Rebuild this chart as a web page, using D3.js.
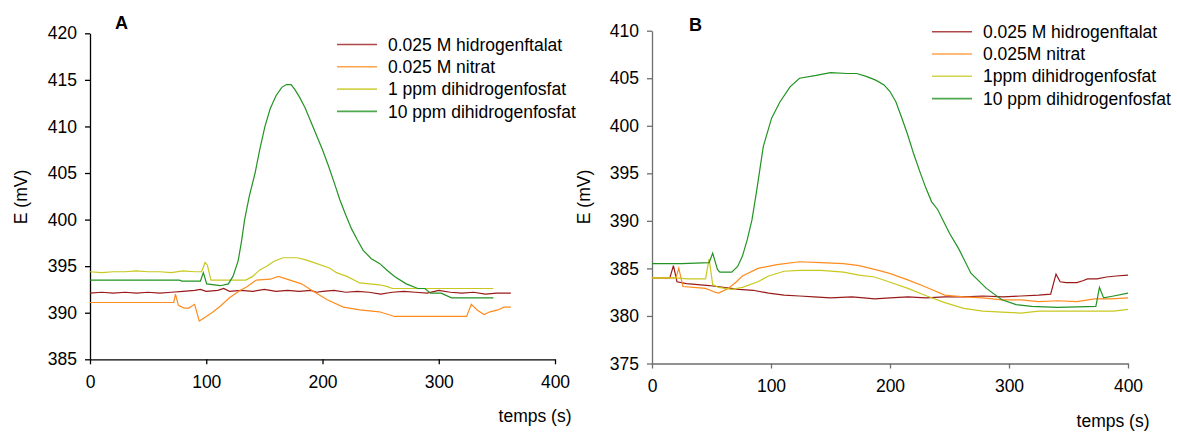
<!DOCTYPE html>
<html>
<head>
<meta charset="utf-8">
<script src="https://cdn.jsdelivr.net/npm/d3@7"></script>
<style>
  body { margin: 0; background: #fff; }
  text { font-family: "Liberation Sans", Arial, sans-serif; }
</style>
</head>
<body>
<svg id="chart" width="1177" height="432"></svg>
<script>
// ---- data ----
const xTicks = [0, 100, 200, 300, 400];
const yTicksA = [385, 390, 395, 400, 405, 410, 415, 420];
const yTicksB = [375, 380, 385, 390, 395, 400, 405, 410];

const labelsA = ['0.025 M hidrogenftalat', '0.025 M nitrat', '1 ppm dihidrogenfosfat', '10 ppm dihidrogenfosfat'];
const labelsB = ['0.025 M hidrogenftalat', '0.025M nitrat', '1ppm dihidrogenfosfat', '10 ppm dihidrogenfosfat'];
const colors = ['#9a1a1a', '#ff8c1e', '#c8c820', '#229322'];

// panel A  [temps (s), E (mV)]
const aFtalat = [[0,392.1],[10,392.2],[20,392.1],[30,392.2],[40,392.1],[50,392.2],[60,392.1],[70,392.2],[80,392.3],[90,392.4],[95,392.5],[100,392.3],[110,392.4],[115,392.6],[120,392.3],[130,392.4],[140,392.3],[150,392.5],[160,392.3],[170,392.4],[180,392.3],[190,392.4],[195,392.2],[200,392.3],[210,392.4],[220,392.2],[230,392.3],[240,392.2],[250,392.0],[260,392.2],[270,392.3],[280,392.2],[290,392.1],[300,392.4],[310,392.2],[320,392.1],[330,392.2],[340,392.0],[350,392.1],[362,392.1]];
const aNitrat = [[0,391.1],[72,391.1],[73.5,392.0],[76,390.8],[81,390.5],[85,390.5],[90,390.9],[94,389.1],[100,389.6],[106,390.1],[112,390.7],[120,391.6],[128,392.3],[135,392.8],[143,393.5],[155,393.6],[162,393.9],[172,393.5],[182,393.1],[192,392.3],[204,391.4],[218,390.6],[232,390.3],[249,390.1],[262,389.6],[324,389.6],[328,390.9],[333,390.3],[339,389.8],[344,390.1],[351,390.3],[356,390.6],[362,390.6]];
const a1ppm = [[0,394.4],[10,394.3],[20,394.4],[30,394.4],[40,394.5],[50,394.4],[60,394.4],[70,394.3],[80,394.5],[90,394.4],[96,394.4],[99,395.4],[101,395.1],[104,393.5],[134,393.5],[140,393.9],[146,394.6],[152,395.0],[158,395.5],[166,395.9],[178,395.9],[185,395.7],[192,395.4],[206,394.8],[212,394.3],[221,393.9],[232,393.2],[249,393.0],[256,392.8],[260,392.6],[347,392.6]];
const a10ppm = [[0,393.5],[77,393.5],[79,393.4],[95,393.4],[97.5,394.3],[100.4,393.1],[112,392.9],[119,393.1],[123,393.9],[127.5,395.6],[130.5,397.8],[133,400],[137,402.5],[142,405],[146,407.5],[150.5,410],[155,411.9],[160,413.3],[165,414.2],[169,414.5],[173,414.5],[176,414.0],[180,413.2],[185,412.0],[190,410.5],[195,409.0],[200,407.5],[205,405.8],[210,404.0],[215,402.1],[220,400.5],[225,399.0],[230,397.8],[235,396.7],[242,395.8],[249,395.3],[256,394.5],[262,393.9],[272,393.1],[282,392.6],[288,392.6],[293,392.1],[302,392.1],[311,391.6],[347,391.6]];

// panel B
const bFtalat = [[0,384.0],[15,384.0],[18,385.3],[21,383.6],[29,383.4],[48,383.2],[60,383.0],[73,382.8],[85,382.7],[98,382.4],[111,382.2],[124,382.1],[136,382.0],[150,381.9],[168,382.0],[178,381.9],[187,381.8],[200,381.9],[215,382.0],[230,381.9],[246,382.0],[262,382.0],[278,382.1],[295,382.0],[310,382.1],[325,382.2],[335,382.3],[339.5,384.4],[343,383.6],[348,383.5],[357,383.5],[362,383.7],[366,383.9],[374,383.9],[382,384.1],[390,384.2],[400,384.3]];
const bNitrat = [[0,384.0],[20,384.0],[22.5,385.0],[26,383.1],[35,383.0],[45,382.9],[53,382.5],[56,382.4],[64,382.9],[70,383.5],[76,384.2],[89,385.0],[105,385.4],[124,385.7],[142,385.6],[161,385.5],[174,385.3],[187,384.9],[199,384.5],[215,383.8],[231,383.0],[246,382.2],[262,382.0],[278,381.9],[294,381.7],[310,381.7],[325,381.5],[341,381.6],[357,381.5],[372,381.8],[386,381.8],[400,381.9]];
const b1ppm = [[0,384.0],[20,384.0],[30,383.9],[45,383.9],[48,386.0],[51,383.3],[56,383.0],[67,382.8],[76,383.0],[89,383.6],[98,384.2],[111,384.7],[124,384.8],[142,384.8],[161,384.6],[174,384.3],[187,384.1],[199,383.6],[215,382.9],[231,382.1],[246,381.4],[262,380.8],[278,380.5],[294,380.4],[310,380.3],[325,380.5],[340,380.5],[357,380.5],[372,380.5],[388,380.5],[400,380.7]];
const b10ppm = [[0,385.5],[25,385.5],[48,385.6],[51,386.6],[55,384.9],[57,384.6],[67,384.6],[72,385.2],[76,386.3],[80,388.0],[84,390.1],[88,393.2],[93.5,397.8],[100.5,400.8],[107.5,402.5],[116,404.1],[124,405.0],[138,405.3],[150,405.6],[164,405.5],[172,405.5],[180,405.2],[188,404.8],[195,404.3],[200,403.6],[205,402.5],[210,400.8],[215,399.0],[220,397.0],[225,395.2],[230,393.5],[235,392.0],[240,391.2],[250,388.7],[258,387.0],[268,384.5],[281,382.9],[294,381.7],[306,381.2],[319,381.0],[341,380.9],[373,381.0],[376,383.0],[379.5,381.9],[388,382.1],[400,382.4]];

// ---- drawing ----
const svg = d3.select('#chart');
const font = '"Liberation Sans", Arial, sans-serif';

function drawPanel(o) {
    const x = d3.scaleLinear().domain([0, 400]).range([o.left, o.right]);
    const y = d3.scaleLinear().domain([o.yTicks[0], o.yTicks[o.yTicks.length - 1]]).range([o.bottom, o.top]);

    const xa = svg.append('g')
        .attr('transform', `translate(0,${o.bottom})`)
        .call(d3.axisBottom(x).tickValues(xTicks).tickSize(5).tickPadding(11).tickSizeOuter(0));
    const ya = svg.append('g')
        .attr('transform', `translate(${o.left},0)`)
        .call(d3.axisLeft(y).tickValues(o.yTicks).tickSize(5).tickPadding(8).tickSizeOuter(0));

    [xa, ya].forEach(a => {
        a.attr('font-size', 17.5).attr('font-family', font);
        a.selectAll('path, line').attr('stroke', o.axisColor).attr('stroke-width', 1.3);
        a.selectAll('text').attr('fill', '#000');
    });

    const line = d3.line().x(d => x(d[0])).y(d => y(d[1]));
    o.series.forEach((s, i) => {
        svg.append('path')
            .datum(s)
            .attr('fill', 'none')
            .attr('stroke', colors[i])
            .attr('stroke-width', 1.2)
            .attr('d', line);
    });

    svg.append('text')
        .attr('x', o.titleX).attr('y', o.titleY)
        .style('font-size', '18px').style('font-weight', 'bold')
        .text(o.title);

    svg.append('text')
        .attr('transform', `translate(${o.yLabelX},197) rotate(-90)`)
        .attr('text-anchor', 'middle').attr('dy', '0.35em')
        .style('font-size', '17.5px')
        .text('E (mV)');

    svg.append('text')
        .attr('x', o.xLabelX).attr('y', o.xLabelY)
        .attr('text-anchor', 'middle').attr('dy', '0.35em')
        .style('font-size', '17.5px')
        .text('temps (s)');

    const leg = svg.append('g').selectAll('g')
        .data(o.labels)
        .join('g')
        .attr('transform', (d, i) => `translate(${o.legX},${o.legY + i * 22.3})`);
    leg.append('line')
        .attr('x1', 0).attr('x2', 40)
        .attr('stroke', (d, i) => colors[i])
        .attr('stroke-width', 1.6)
        .attr('stroke-opacity', 0.8);
    leg.append('text')
        .attr('x', 51).attr('dy', '0.35em')
        .style('font-size', '17.5px')
        .text(d => d);
}

drawPanel({
    left: 90, right: 555, top: 33.3, bottom: 359.3,
    yTicks: yTicksA, axisColor: '#000',
    series: [aFtalat, aNitrat, a1ppm, a10ppm],
    title: 'A', titleX: 115, titleY: 29,
    yLabelX: 20.5, xLabelX: 535, xLabelY: 416,
    labels: labelsA, legX: 337, legY: 44.5
});

drawPanel({
    left: 652, right: 1128, top: 30.7, bottom: 363.5,
    yTicks: yTicksB, axisColor: '#6e6e6e',
    series: [bFtalat, bNitrat, b1ppm, b10ppm],
    title: 'B', titleX: 689, titleY: 31,
    yLabelX: 584, xLabelX: 1113, xLabelY: 421,
    labels: labelsB, legX: 932, legY: 31.7
});
</script>
</body>
</html>
